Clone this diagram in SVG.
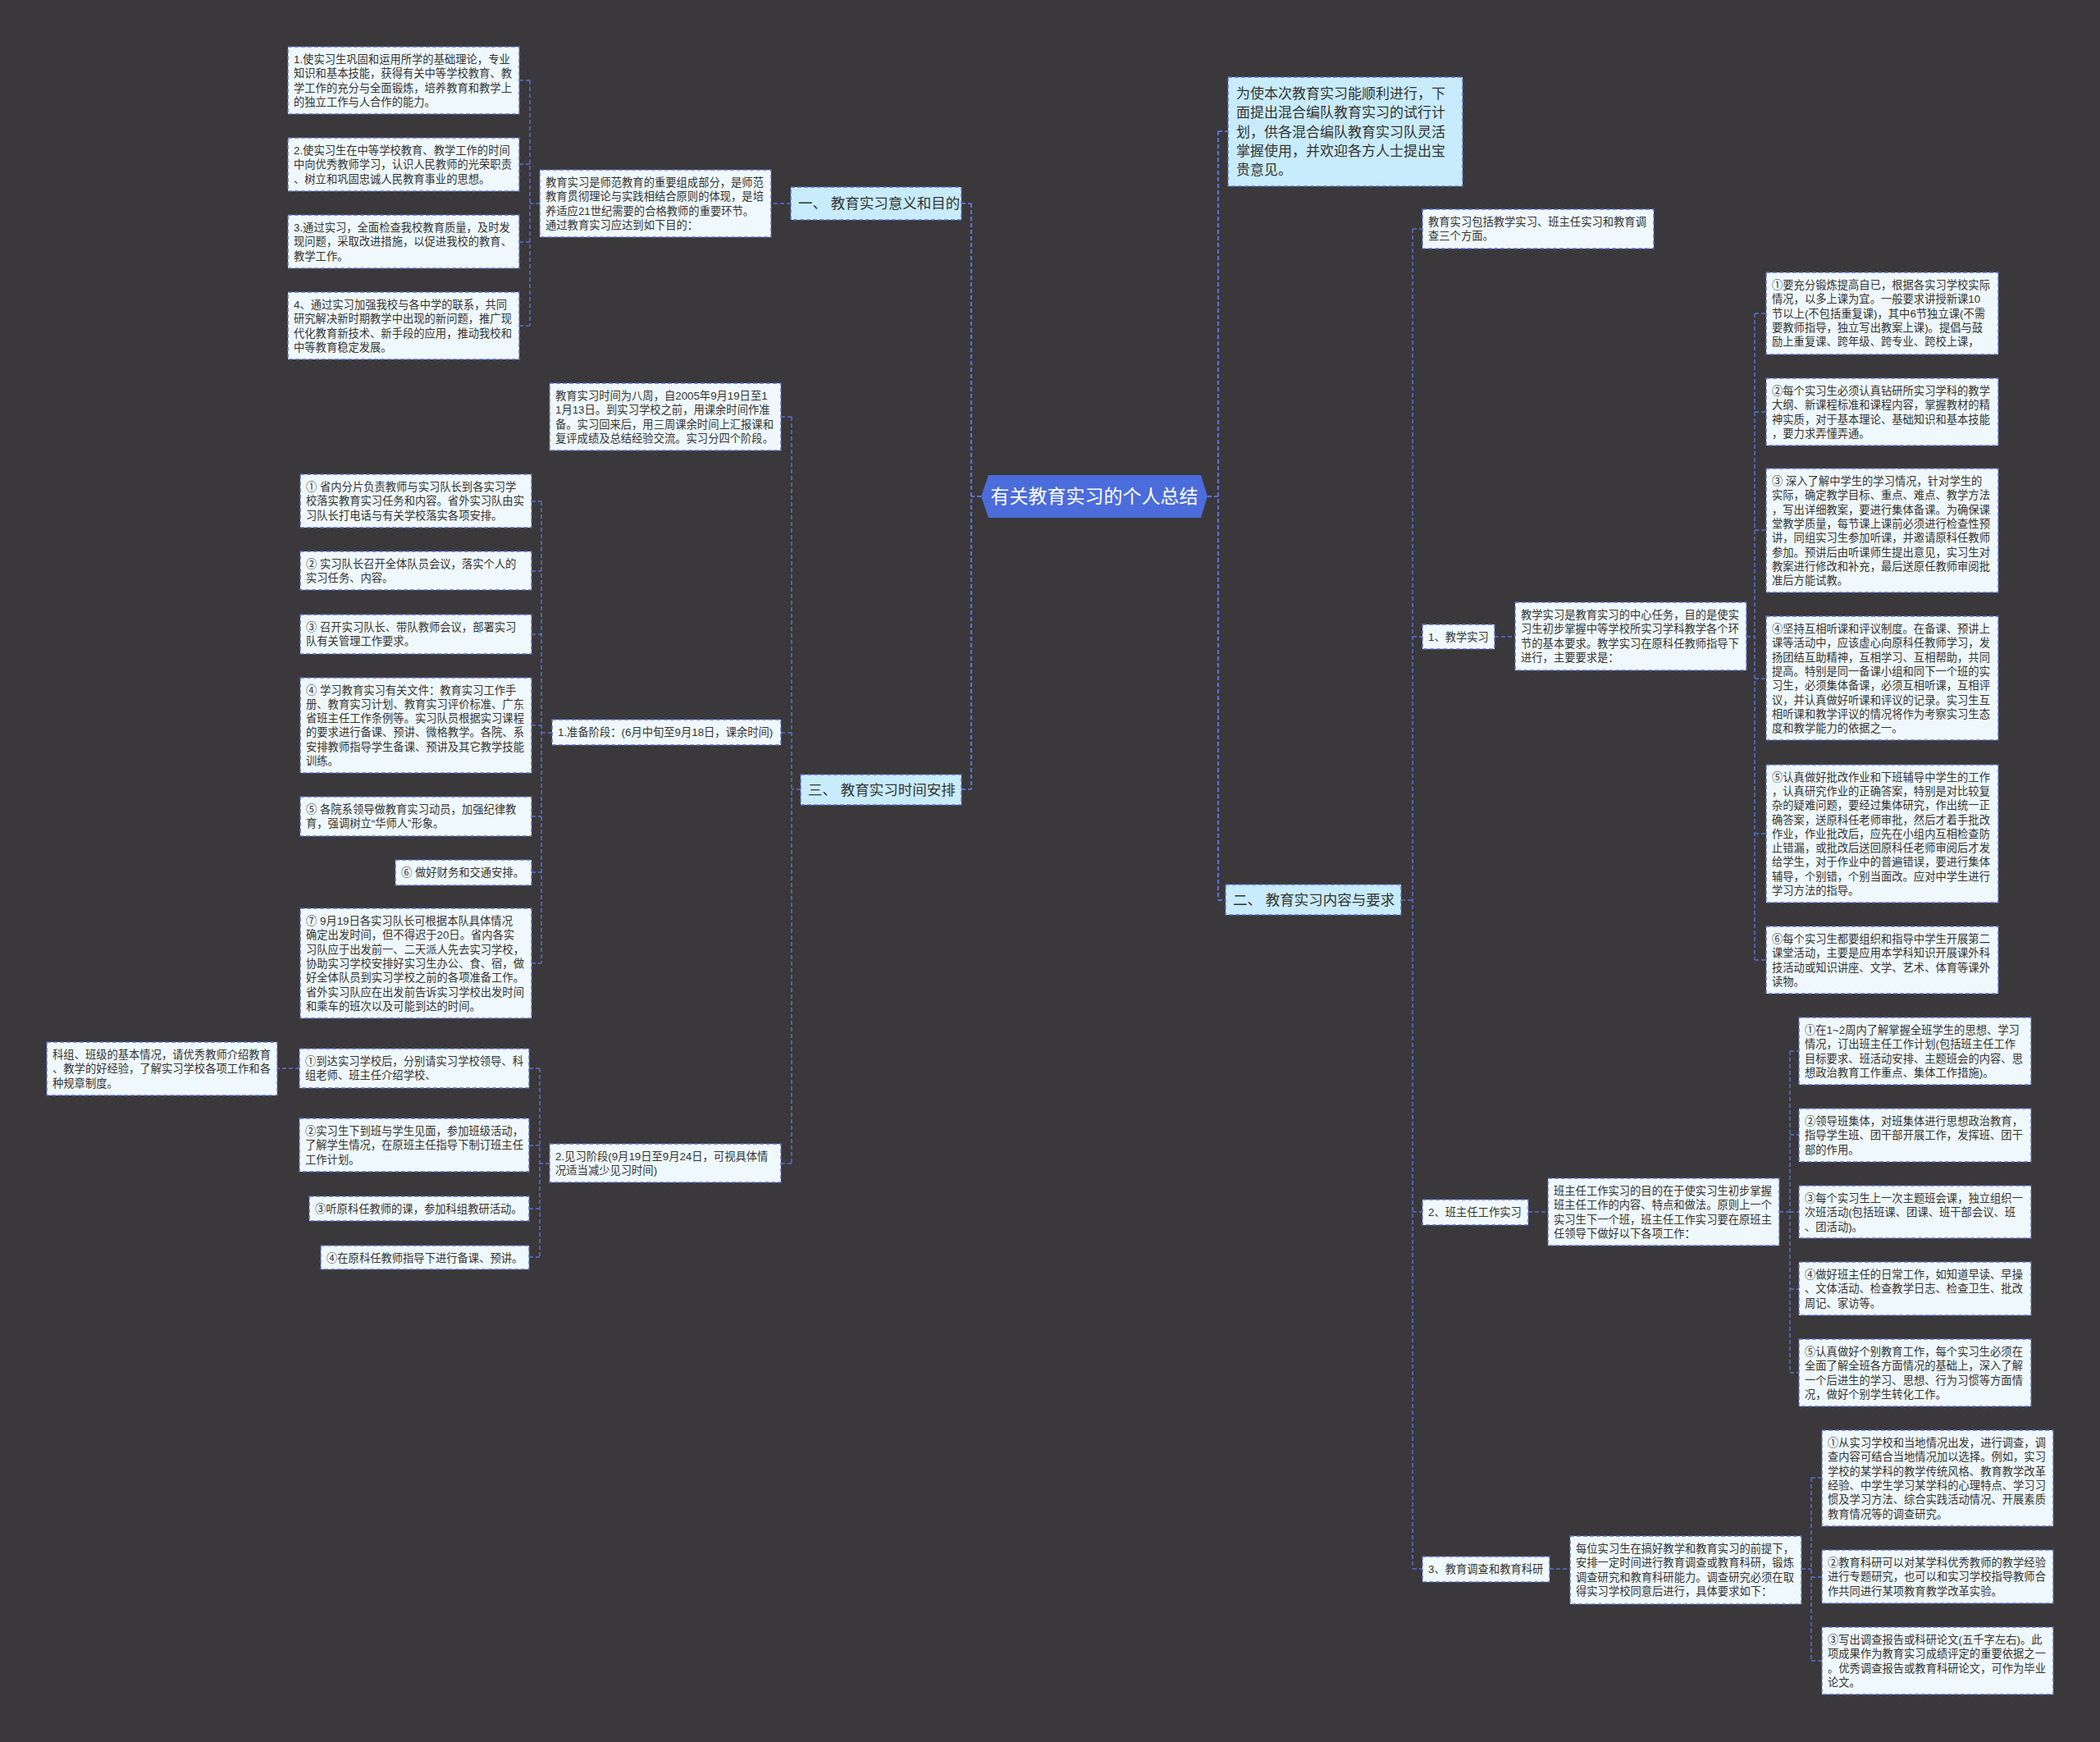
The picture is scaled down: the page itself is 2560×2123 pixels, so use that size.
<svg xmlns="http://www.w3.org/2000/svg" width="2560" height="2123" viewBox="0 0 2560 2123">
<style>
.bg{fill:#3a383a}
.n rect{fill:#eff9fd;stroke:#5b6bc9;stroke-width:1.4;stroke-dasharray:5 3}
.b rect{fill:#c8ecfb;stroke:#5b6bc9;stroke-width:1.4;stroke-dasharray:5 3}
text{font-family:"Liberation Sans","Noto Sans CJK SC",sans-serif;fill:#333333}
.t{font-size:13.3px}
.bt{font-size:17.5px}
.it{font-size:17px}
.ct{font-size:23px;fill:#ffffff;text-anchor:middle}
#connectors path{fill:none;stroke:#5a6fd6;stroke-width:1.5;stroke-dasharray:5 3}
#connectors path.m{stroke-width:2.2;stroke-dasharray:5 3}
</style>
<rect class="bg" x="0" y="0" width="2560" height="2123"/>
<g id="connectors">
<path class="m" d="M1196,605H1184M1184,248V962M1172,248H1184M1172,962H1184"/>
<path class="m" d="M1472,605H1485M1485,160V1097M1485,160H1497M1485,1097H1494"/>
<path d="M964,248H940"/>
<path d="M658,248H646M646,98V397M633,98H646M633,200H646M633,295H646M633,397H646"/>
<path d="M976,962H965M965,508V1418M952,508H965M952,893H965M952,1418H965"/>
<path d="M673,893H660M660,611V1174M648,611H660M648,696H660M648,773H660M648,884H660M648,995H660M648,1063H660M648,1174H660"/>
<path d="M670,1418H658M658,1302V1532M645,1302H658M645,1396H658M645,1473H658M645,1532H658"/>
<path d="M365,1302H338"/>
<path d="M1708,1097H1722M1722,279V1912M1722,279H1734M1722,776H1734M1722,1477H1734M1722,1912H1734"/>
<path d="M1822,776H1847M2129,776H2139M2139,382V1170M2139,382H2153M2139,502H2153M2139,646H2153M2139,827H2153M2139,1016H2153M2139,1170H2153"/>
<path d="M1863,1477H1887M2169,1477H2182M2182,1281V1673M2182,1281H2193M2182,1383H2193M2182,1477H2193M2182,1571H2193M2182,1673H2193"/>
<path d="M1889,1912H1914M2196,1912H2208M2208,1801V2024M2208,1801H2221M2208,1922H2221M2208,2024H2221"/>
</g>

<g id="root">
<polygon points="1196,605 1205,579 1464,579 1472,605 1464,631 1205,631" fill="#4b6cdb"/>
<text class="ct" x="1334" y="613">有关教育实习的个人总结</text>
</g>

<g id="branch1" class="b">
<rect x="964" y="228" width="208" height="40"/>
<text class="bt" x="973" y="254">一、 教育实习意义和目的</text>
</g>
<g id="branch3" class="b">
<rect x="976" y="944" width="196" height="37"/>
<text class="bt" x="985" y="969">三、 教育实习时间安排</text>
</g>
<g id="branch2" class="b">
<rect x="1494" y="1078" width="214" height="37"/>
<text class="bt" x="1503" y="1103">二、 教育实习内容与要求</text>
</g>

<g id="intro2" class="b">
<rect x="1497" y="94" width="286" height="133"/>
<text class="it"><tspan x="1507" y="120">为使本次教育实习能顺利进行，下</tspan><tspan x="1507" y="143.3">面提出混合编队教育实习的试行计</tspan><tspan x="1507" y="166.6">划，供各混合编队教育实习队灵活</tspan><tspan x="1507" y="189.9">掌握使用，并欢迎各方人士提出宝</tspan><tspan x="1507" y="213.2">贵意见。</tspan></text>
</g>

<g id="intro1" class="n">
<rect x="658" y="207" width="282" height="82"/>
<text class="t"><tspan x="665" y="227">教育实习是师范教育的重要组成部分，是师范</tspan><tspan x="665" y="244.3">教育贯彻理论与实践相结合原则的体现，是培</tspan><tspan x="665" y="261.6">养适应21世纪需要的合格教师的重要环节。</tspan><tspan x="665" y="278.9">通过教育实习应达到如下目的：</tspan></text>
</g>
<g id="a1" class="n">
<rect x="351" y="57" width="282" height="82"/>
<text class="t"><tspan x="358" y="77">1.使实习生巩固和运用所学的基础理论，专业</tspan><tspan x="358" y="94.3">知识和基本技能，获得有关中等学校教育、教</tspan><tspan x="358" y="111.6">学工作的充分与全面锻炼，培养教育和教学上</tspan><tspan x="358" y="128.9">的独立工作与人合作的能力。</tspan></text>
</g>
<g id="a2" class="n">
<rect x="351" y="168" width="282" height="65"/>
<text class="t"><tspan x="358" y="188">2.使实习生在中等学校教育、教学工作的时间</tspan><tspan x="358" y="205.3">中向优秀教师学习，认识人民教师的光荣职责</tspan><tspan x="358" y="222.6">、树立和巩固忠诚人民教育事业的思想。</tspan></text>
</g>
<g id="a3" class="n">
<rect x="351" y="262" width="282" height="65"/>
<text class="t"><tspan x="358" y="282">3.通过实习，全面检查我校教育质量，及时发</tspan><tspan x="358" y="299.3">现问题，采取改进措施，以促进我校的教育、</tspan><tspan x="358" y="316.6">教学工作。</tspan></text>
</g>
<g id="a4" class="n">
<rect x="351" y="356" width="282" height="82"/>
<text class="t"><tspan x="358" y="376">4、通过实习加强我校与各中学的联系，共同</tspan><tspan x="358" y="393.3">研究解决新时期教学中出现的新问题，推广现</tspan><tspan x="358" y="410.6">代化教育新技术、新手段的应用，推动我校和</tspan><tspan x="358" y="427.9">中等教育稳定发展。</tspan></text>
</g>

<g id="time" class="n">
<rect x="670" y="467" width="282" height="82"/>
<text class="t"><tspan x="677" y="487">教育实习时间为八周，自2005年9月19日至1</tspan><tspan x="677" y="504.3">1月13日。到实习学校之前，用课余时间作准</tspan><tspan x="677" y="521.6">备。实习回来后，用三周课余时间上汇报课和</tspan><tspan x="677" y="538.9">复评成绩及总结经验交流。实习分四个阶段。</tspan></text>
</g>
<g id="prep" class="n">
<rect x="673" y="877" width="279" height="31"/>
<text class="t" x="680" y="897">1.准备阶段：(6月中旬至9月18日，课余时间)</text>
</g>
<g id="p1" class="n">
<rect x="366" y="578" width="282" height="65"/>
<text class="t"><tspan x="373" y="598">① 省内分片负责教师与实习队长到各实习学</tspan><tspan x="373" y="615.3">校落实教育实习任务和内容。省外实习队由实</tspan><tspan x="373" y="632.6">习队长打电话与有关学校落实各项安排。</tspan></text>
</g>
<g id="p2" class="n">
<rect x="366" y="672" width="282" height="47"/>
<text class="t"><tspan x="373" y="691.5">② 实习队长召开全体队员会议，落实个人的</tspan><tspan x="373" y="708.8">实习任务、内容。</tspan></text>
</g>
<g id="p3" class="n">
<rect x="366" y="749" width="282" height="48"/>
<text class="t"><tspan x="373" y="769">③ 召开实习队长、带队教师会议，部署实习</tspan><tspan x="373" y="786.3">队有关管理工作要求。</tspan></text>
</g>
<g id="p4" class="n">
<rect x="366" y="826" width="282" height="116"/>
<text class="t"><tspan x="373" y="845.5">④ 学习教育实习有关文件：教育实习工作手</tspan><tspan x="373" y="862.8">册、教育实习计划、教育实习评价标准、广东</tspan><tspan x="373" y="880.1">省班主任工作条例等。实习队员根据实习课程</tspan><tspan x="373" y="897.4">的要求进行备课、预讲、微格教学。各院、系</tspan><tspan x="373" y="914.7">安排教师指导学生备课、预讲及其它教学技能</tspan><tspan x="373" y="932">训练。</tspan></text>
</g>
<g id="p5" class="n">
<rect x="366" y="971" width="282" height="48"/>
<text class="t"><tspan x="373" y="991">⑤ 各院系领导做教育实习动员，加强纪律教</tspan><tspan x="373" y="1008.3">育，强调树立“华师人”形象。</tspan></text>
</g>
<g id="p6" class="n">
<rect x="482" y="1048" width="166" height="31"/>
<text class="t" x="489" y="1068">⑥ 做好财务和交通安排。</text>
</g>
<g id="p7" class="n">
<rect x="366" y="1107" width="282" height="134"/>
<text class="t"><tspan x="373" y="1127">⑦ 9月19日各实习队长可根据本队具体情况</tspan><tspan x="373" y="1144.3">确定出发时间，但不得迟于20日。省内各实</tspan><tspan x="373" y="1161.6">习队应于出发前一、二天派人先去实习学校，</tspan><tspan x="373" y="1178.9">协助实习学校安排好实习生办公、食、宿，做</tspan><tspan x="373" y="1196.2">好全体队员到实习学校之前的各项准备工作。</tspan><tspan x="373" y="1213.5">省外实习队应在出发前告诉实习学校出发时间</tspan><tspan x="373" y="1230.8">和乘车的班次以及可能到达的时间。</tspan></text>
</g>
<g id="observe" class="n">
<rect x="670" y="1394" width="282" height="47"/>
<text class="t"><tspan x="677" y="1413.5">2.见习阶段(9月19日至9月24日，可视具体情</tspan><tspan x="677" y="1430.8">况适当减少见习时间)</tspan></text>
</g>
<g id="s1" class="n">
<rect x="365" y="1278" width="280" height="48"/>
<text class="t"><tspan x="372" y="1298">①到达实习学校后，分别请实习学校领导、科</tspan><tspan x="372" y="1315.3">组老师、班主任介绍学校、</tspan></text>
</g>
<g id="s1a" class="n">
<rect x="57" y="1270" width="281" height="65"/>
<text class="t"><tspan x="64" y="1290">科组、班级的基本情况，请优秀教师介绍教育</tspan><tspan x="64" y="1307.3">、教学的好经验，了解实习学校各项工作和各</tspan><tspan x="64" y="1324.6">种规章制度。</tspan></text>
</g>
<g id="s2" class="n">
<rect x="365" y="1363" width="280" height="65"/>
<text class="t"><tspan x="372" y="1383">②实习生下到班与学生见面，参加班级活动，</tspan><tspan x="372" y="1400.3">了解学生情况，在原班主任指导下制订班主任</tspan><tspan x="372" y="1417.6">工作计划。</tspan></text>
</g>
<g id="s3" class="n">
<rect x="377" y="1458" width="268" height="30"/>
<text class="t" x="384" y="1478">③听原科任教师的课，参加科组教研活动。</text>
</g>
<g id="s4" class="n">
<rect x="391" y="1518" width="254" height="29"/>
<text class="t" x="398" y="1537.5">④在原科任教师指导下进行备课、预讲。</text>
</g>

<g id="scope" class="n">
<rect x="1734" y="255" width="282" height="48"/>
<text class="t"><tspan x="1741" y="275">教育实习包括教学实习、班主任实习和教育调</tspan><tspan x="1741" y="292.3">查三个方面。</tspan></text>
</g>
<g id="teach" class="n">
<rect x="1734" y="761" width="88" height="30"/>
<text class="t" x="1741" y="781">1、教学实习</text>
</g>
<g id="teach-desc" class="n">
<rect x="1847" y="734" width="282" height="83"/>
<text class="t"><tspan x="1854" y="754">教学实习是教育实习的中心任务，目的是使实</tspan><tspan x="1854" y="771.3">习生初步掌握中等学校所实习学科教学各个环</tspan><tspan x="1854" y="788.6">节的基本要求。教学实习在原科任教师指导下</tspan><tspan x="1854" y="805.9">进行，主要要求是：</tspan></text>
</g>
<g id="t1" class="n">
<rect x="2153" y="332" width="283" height="100"/>
<text class="t"><tspan x="2160" y="352">①要充分锻炼提高自已，根据各实习学校实际</tspan><tspan x="2160" y="369.3">情况，以多上课为宜。一般要求讲授新课10</tspan><tspan x="2160" y="386.6">节以上(不包括重复课)，其中6节独立课(不需</tspan><tspan x="2160" y="403.9">要教师指导，独立写出教案上课)。提倡与鼓</tspan><tspan x="2160" y="421.2">励上重复课、跨年级、跨专业、跨校上课，</tspan></text>
</g>
<g id="t2" class="n">
<rect x="2153" y="461" width="283" height="82"/>
<text class="t"><tspan x="2160" y="481">②每个实习生必须认真钻研所实习学科的教学</tspan><tspan x="2160" y="498.3">大纲、新课程标准和课程内容，掌握教材的精</tspan><tspan x="2160" y="515.6">神实质，对于基本理论、基础知识和基本技能</tspan><tspan x="2160" y="532.9">，要力求弄懂弄通。</tspan></text>
</g>
<g id="t3" class="n">
<rect x="2153" y="571" width="283" height="151"/>
<text class="t"><tspan x="2160" y="591">③ 深入了解中学生的学习情况，针对学生的</tspan><tspan x="2160" y="608.3">实际，确定教学目标、重点、难点、教学方法</tspan><tspan x="2160" y="625.6">，写出详细教案，要进行集体备课。为确保课</tspan><tspan x="2160" y="642.9">堂教学质量，每节课上课前必须进行检查性预</tspan><tspan x="2160" y="660.2">讲，同组实习生参加听课，并邀请原科任教师</tspan><tspan x="2160" y="677.5">参加。预讲后由听课师生提出意见，实习生对</tspan><tspan x="2160" y="694.8">教案进行修改和补充，最后送原任教师审阅批</tspan><tspan x="2160" y="712.1">准后方能试教。</tspan></text>
</g>
<g id="t4" class="n">
<rect x="2153" y="751" width="283" height="151"/>
<text class="t"><tspan x="2160" y="771">④坚持互相听课和评议制度。在备课、预讲上</tspan><tspan x="2160" y="788.3">课等活动中，应该虚心向原科任教师学习，发</tspan><tspan x="2160" y="805.6">扬团结互助精神，互相学习、互相帮助，共同</tspan><tspan x="2160" y="822.9">提高。特别是同一备课小组和同下一个班的实</tspan><tspan x="2160" y="840.2">习生，必须集体备课，必须互相听课，互相评</tspan><tspan x="2160" y="857.5">议，并认真做好听课和评议的记录。实习生互</tspan><tspan x="2160" y="874.8">相听课和教学评议的情况将作为考察实习生态</tspan><tspan x="2160" y="892.1">度和教学能力的依据之一。</tspan></text>
</g>
<g id="t5" class="n">
<rect x="2153" y="932" width="283" height="168"/>
<text class="t"><tspan x="2160" y="951.6">⑤认真做好批改作业和下班辅导中学生的工作</tspan><tspan x="2160" y="968.9">，认真研究作业的正确答案，特别是对比较复</tspan><tspan x="2160" y="986.2">杂的疑难问题，要经过集体研究，作出统一正</tspan><tspan x="2160" y="1003.5">确答案，送原科任老师审批，然后才着手批改</tspan><tspan x="2160" y="1020.8">作业，作业批改后，应先在小组内互相检查防</tspan><tspan x="2160" y="1038.1">止错漏，或批改后送回原科任老师审阅后才发</tspan><tspan x="2160" y="1055.4">给学生，对于作业中的普遍错误，要进行集体</tspan><tspan x="2160" y="1072.7">辅导，个别错，个别当面改。应对中学生进行</tspan><tspan x="2160" y="1090">学习方法的指导。</tspan></text>
</g>
<g id="t6" class="n">
<rect x="2153" y="1129" width="283" height="82"/>
<text class="t"><tspan x="2160" y="1149">⑥每个实习生都要组织和指导中学生开展第二</tspan><tspan x="2160" y="1166.3">课堂活动，主要是应用本学科知识开展课外科</tspan><tspan x="2160" y="1183.6">技活动或知识讲座、文学、艺术、体育等课外</tspan><tspan x="2160" y="1200.9">读物。</tspan></text>
</g>

<g id="class" class="n">
<rect x="1734" y="1462" width="129" height="31"/>
<text class="t" x="1741" y="1482">2、班主任工作实习</text>
</g>
<g id="class-desc" class="n">
<rect x="1887" y="1436" width="282" height="82"/>
<text class="t"><tspan x="1894" y="1456">班主任工作实习的目的在于使实习生初步掌握</tspan><tspan x="1894" y="1473.3">班主任工作的内容、特点和做法。原则上一个</tspan><tspan x="1894" y="1490.6">实习生下一个班，班主任工作实习要在原班主</tspan><tspan x="1894" y="1507.9">任领导下做好以下各项工作：</tspan></text>
</g>
<g id="b1" class="n">
<rect x="2193" y="1240" width="283" height="82"/>
<text class="t"><tspan x="2200" y="1260">①在1~2周内了解掌握全班学生的思想、学习</tspan><tspan x="2200" y="1277.3">情况，订出班主任工作计划(包括班主任工作</tspan><tspan x="2200" y="1294.6">目标要求、班活动安排、主题班会的内容、思</tspan><tspan x="2200" y="1311.9">想政治教育工作重点、集体工作措施)。</tspan></text>
</g>
<g id="b2" class="n">
<rect x="2193" y="1351" width="283" height="65"/>
<text class="t"><tspan x="2200" y="1371">②领导班集体，对班集体进行思想政治教育，</tspan><tspan x="2200" y="1388.3">指导学生班、团干部开展工作，发挥班、团干</tspan><tspan x="2200" y="1405.6">部的作用。</tspan></text>
</g>
<g id="b3" class="n">
<rect x="2193" y="1445" width="283" height="64"/>
<text class="t"><tspan x="2200" y="1465">③每个实习生上一次主题班会课，独立组织一</tspan><tspan x="2200" y="1482.3">次班活动(包括班课、团课、班干部会议、班</tspan><tspan x="2200" y="1499.6">、团活动)。</tspan></text>
</g>
<g id="b4" class="n">
<rect x="2193" y="1538" width="283" height="65"/>
<text class="t"><tspan x="2200" y="1558">④做好班主任的日常工作，如知道早读、早操</tspan><tspan x="2200" y="1575.3">、文体活动、检查教学日志、检查卫生、批改</tspan><tspan x="2200" y="1592.6">周记、家访等。</tspan></text>
</g>
<g id="b5" class="n">
<rect x="2193" y="1632" width="283" height="82"/>
<text class="t"><tspan x="2200" y="1652">⑤认真做好个别教育工作，每个实习生必须在</tspan><tspan x="2200" y="1669.3">全面了解全班各方面情况的基础上，深入了解</tspan><tspan x="2200" y="1686.6">一个后进生的学习、思想、行为习惯等方面情</tspan><tspan x="2200" y="1703.9">况，做好个别学生转化工作。</tspan></text>
</g>

<g id="research" class="n">
<rect x="1734" y="1897" width="155" height="31"/>
<text class="t" x="1741" y="1917">3、教育调查和教育科研</text>
</g>
<g id="research-desc" class="n">
<rect x="1914" y="1872" width="282" height="83"/>
<text class="t"><tspan x="1921" y="1892">每位实习生在搞好教学和教育实习的前提下，</tspan><tspan x="1921" y="1909.3">安排一定时间进行教育调查或教育科研，锻炼</tspan><tspan x="1921" y="1926.6">调查研究和教育科研能力。调查研究必须在取</tspan><tspan x="1921" y="1943.9">得实习学校同意后进行，具体要求如下：</tspan></text>
</g>
<g id="r1" class="n">
<rect x="2221" y="1743" width="282" height="117"/>
<text class="t"><tspan x="2228" y="1763">①从实习学校和当地情况出发，进行调查，调</tspan><tspan x="2228" y="1780.3">查内容可结合当地情况加以选择。例如，实习</tspan><tspan x="2228" y="1797.6">学校的某学科的教学传统风格、教育教学改革</tspan><tspan x="2228" y="1814.9">经验、中学生学习某学科的心理特点、学习习</tspan><tspan x="2228" y="1832.2">惯及学习方法、综合实践活动情况、开展素质</tspan><tspan x="2228" y="1849.5">教育情况等的调查研究。</tspan></text>
</g>
<g id="r2" class="n">
<rect x="2221" y="1889" width="282" height="65"/>
<text class="t"><tspan x="2228" y="1909">②教育科研可以对某学科优秀教师的教学经验</tspan><tspan x="2228" y="1926.3">进行专题研究，也可以和实习学校指导教师合</tspan><tspan x="2228" y="1943.6">作共同进行某项教育教学改革实验。</tspan></text>
</g>
<g id="r3" class="n">
<rect x="2221" y="1983" width="282" height="82"/>
<text class="t"><tspan x="2228" y="2003">③写出调查报告或科研论文(五千字左右)。此</tspan><tspan x="2228" y="2020.3">项成果作为教育实习成绩评定的重要依据之一</tspan><tspan x="2228" y="2037.6">。优秀调查报告或教育科研论文，可作为毕业</tspan><tspan x="2228" y="2054.9">论文。</tspan></text>
</g>
</svg>
